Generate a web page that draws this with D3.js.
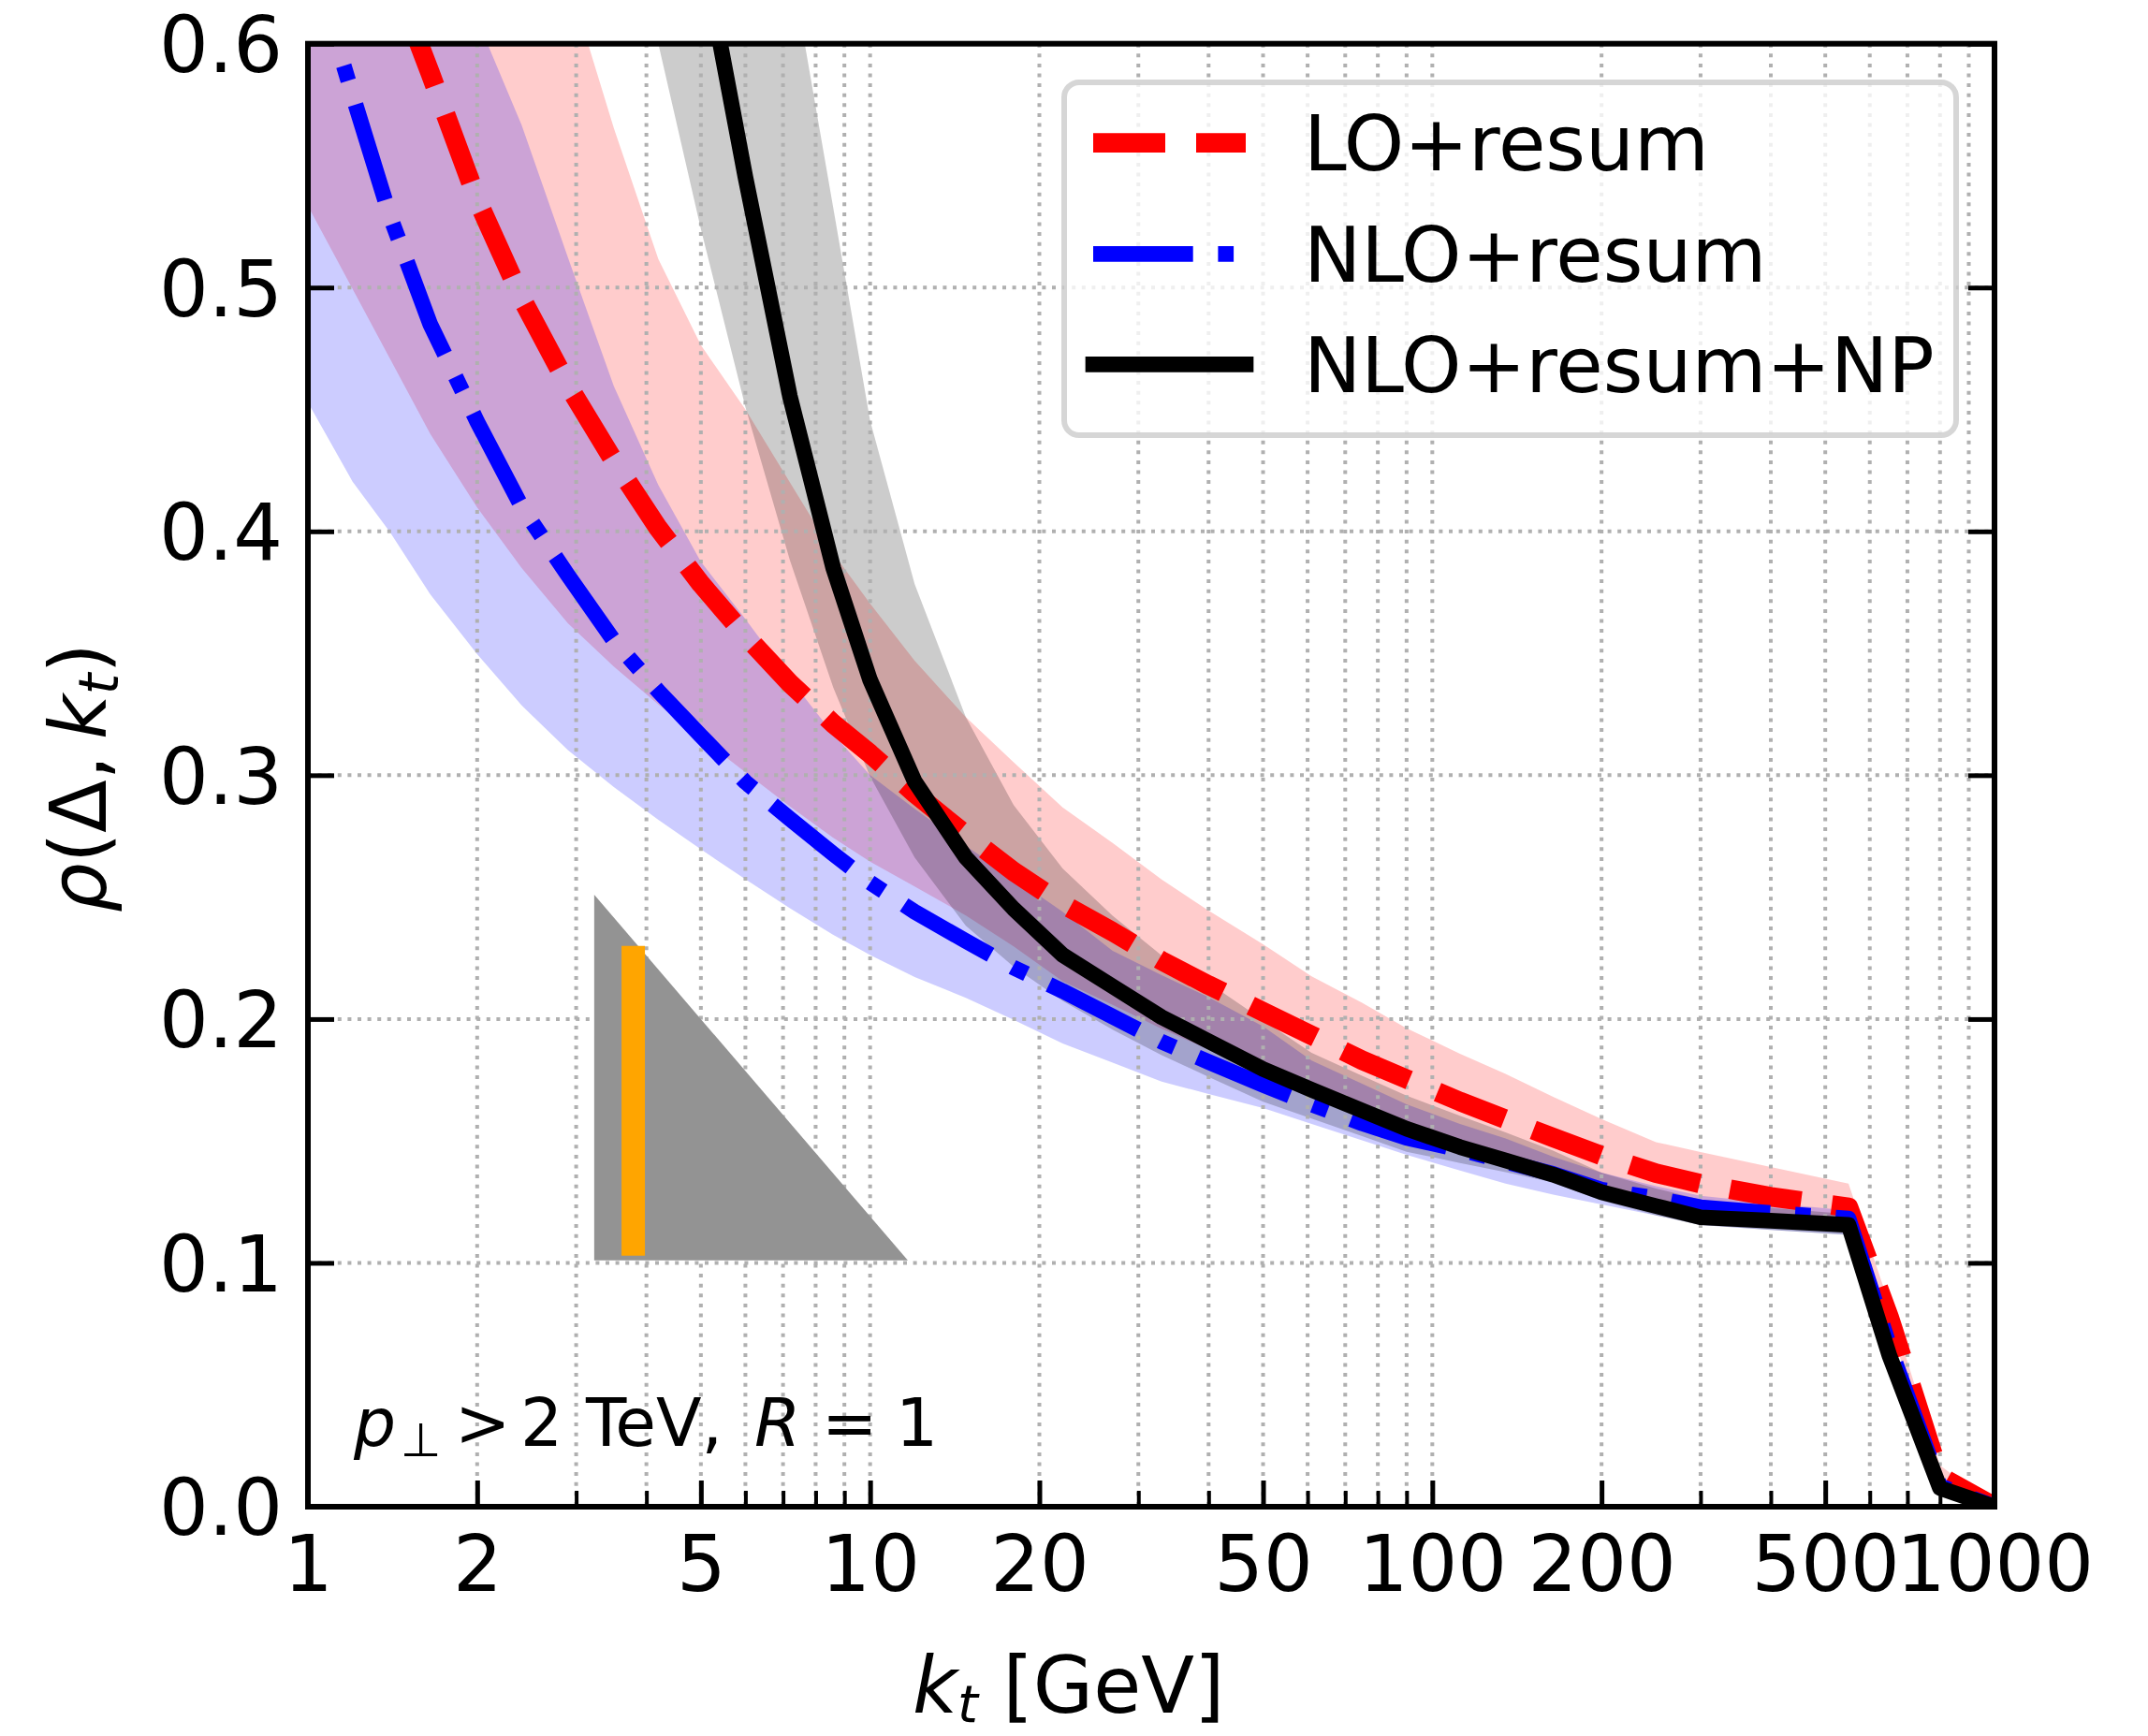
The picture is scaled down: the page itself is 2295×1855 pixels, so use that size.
<!DOCTYPE html>
<html>
<head>
<meta charset="utf-8">
<script src="https://cdn.jsdelivr.net/npm/d3@7"></script>
<style>
  html, body { margin: 0; padding: 0; background: #fff; }
  svg { display: block; font-family: "DejaVu Sans", sans-serif; }
</style>
</head>
<body>
<svg id="chart"></svg>
<script>
// kt grid [GeV]
const KT = [1, 1.2, 1.4, 1.65, 2, 2.4, 2.9, 3.5, 4.2, 5, 6, 7.2, 8.6, 10, 12, 14.8, 18, 22, 27, 33,
  40, 50, 61, 75, 90, 112, 135, 164, 200, 250, 300, 400, 550, 650, 800, 1000];

// LO+resum
const LO_MID = [0.73, 0.672, 0.631, 0.588, 0.536, 0.4956, 0.460, 0.4289, 0.4013, 0.3785, 0.3572, 0.3377, 0.3211, 0.3088,
  0.2926, 0.2756, 0.2605, 0.2472, 0.2358, 0.2239, 0.2139, 0.2030, 0.1933, 0.1831, 0.1754, 0.1662, 0.1589, 0.1514,
  0.144, 0.1368, 0.1325, 0.1271, 0.1228, 0.0776, 0.0125, 0];
const LO_LOW = [0.5335, 0.4995, 0.4707, 0.440, 0.4098, 0.385, 0.3623, 0.3446, 0.329, 0.3154, 0.3012, 0.2872, 0.2743, 0.2645,
  0.2544, 0.2425, 0.2298, 0.2155, 0.2058, 0.196, 0.1875, 0.1775, 0.170, 0.161, 0.1525, 0.145, 0.1395, 0.1345,
  0.1285, 0.124, 0.1205, 0.119, 0.117, 0.075, 0.010, 0];
const LO_HIGH = [0.95, 0.90, 0.86, 0.81, 0.75, 0.689, 0.627, 0.5654, 0.5117, 0.4764, 0.450, 0.4201, 0.391, 0.3704,
  0.347, 0.3238, 0.3053, 0.2868, 0.2722, 0.2572, 0.2445, 0.2307, 0.2175, 0.2067, 0.1962, 0.1858, 0.1775, 0.1681,
  0.159, 0.1495, 0.1455, 0.1393, 0.1325, 0.083, 0.017, 0];

// NLO+resum
const NLO_MID = [0.640, 0.5791, 0.5292, 0.485, 0.445, 0.4101, 0.382, 0.3552, 0.3345, 0.3162, 0.2972, 0.2821, 0.2677, 0.256,
  0.244, 0.232, 0.2211, 0.2115, 0.201, 0.1907, 0.1824, 0.173, 0.165, 0.1572, 0.1513, 0.1465, 0.1415, 0.1365,
  0.130, 0.1265, 0.1228, 0.1205, 0.1182, 0.066, 0.0085, 0];
const NLO_LOW = [0.4529, 0.4205, 0.3996, 0.3742, 0.3496, 0.3286, 0.3103, 0.2951, 0.2817, 0.2696, 0.2573, 0.2454, 0.2345, 0.2263,
  0.2172, 0.2087, 0.1997, 0.190, 0.1821, 0.1743, 0.1693, 0.1635, 0.157, 0.1503, 0.1443, 0.1379, 0.1325, 0.128,
  0.124, 0.1195, 0.1155, 0.1135, 0.1115, 0.058, 0.005, 0];
const NLO_HIGH = [0.84, 0.78, 0.733, 0.682, 0.610, 0.5666, 0.5124, 0.4596, 0.419, 0.3875, 0.364, 0.3396, 0.3168, 0.300,
  0.2862, 0.271, 0.2579, 0.244, 0.228, 0.218, 0.209, 0.197, 0.183, 0.1735, 0.165, 0.157, 0.151, 0.1435,
  0.137, 0.1315, 0.1275, 0.1245, 0.1215, 0.0675, 0.011, 0];

// NLO+resum+NP
const NP_MID = [1.45, 1.35, 1.25, 1.15, 1.05, 0.96, 0.88, 0.80, 0.734, 0.642, 0.5453, 0.4554, 0.3849, 0.339,
  0.2975, 0.2662, 0.2452, 0.2263, 0.2134, 0.2008, 0.1909, 0.1795, 0.1710, 0.1625, 0.155, 0.1475, 0.142, 0.1362,
  0.129, 0.1233, 0.1187, 0.1173, 0.1156, 0.0621, 0.0076, 0];
const NP_LOW = [1.25, 1.15, 1.07, 1.0, 0.92, 0.85, 0.763, 0.68, 0.60, 0.524, 0.451, 0.3881, 0.3359, 0.2995,
  0.2663, 0.2382, 0.2215, 0.2074, 0.1956, 0.1852, 0.1763, 0.1661, 0.1592, 0.152, 0.1456, 0.141, 0.1372, 0.133,
  0.1255, 0.1195, 0.1155, 0.1135, 0.1115, 0.059, 0.005, 0];
const NP_HIGH = [1.77, 1.68, 1.57, 1.48, 1.37, 1.264, 1.155, 1.048, 0.944, 0.8435, 0.739, 0.635, 0.5326, 0.4454,
  0.3784, 0.3238, 0.2878, 0.2618, 0.2424, 0.2261, 0.2148, 0.1996, 0.1861, 0.1767, 0.1686, 0.1603, 0.1535, 0.146,
  0.137, 0.1305, 0.126, 0.1225, 0.12, 0.066, 0.010, 0];

// inset sketch: grey triangle and orange bar (data coordinates)
const TRIANGLE = [[3.23, 0.101], [3.23, 0.251], [11.67, 0.101]];
const ORANGE_BAR = [[3.79, 0.103], [3.79, 0.230]];

// axes
const X_MAJOR = [1, 2, 5, 10, 20, 50, 100, 200, 500, 1000];
const X_MINOR = [3, 4, 6, 7, 8, 9, 30, 40, 60, 70, 80, 90, 300, 400, 600, 700, 800, 900];
const Y_TICKS = [0, 0.1, 0.2, 0.3, 0.4, 0.5, 0.6];
const LEGEND_LABELS = ["LO+resum", "NLO+resum", "NLO+resum+NP"];

const W = 2295, H = 1855;
const L = 329, R = 2131, T = 46.7, B = 1610;
const FS = 83;

const svg = d3.select("#chart").attr("width", W).attr("height", H).attr("viewBox", `0 0 ${W} ${H}`);
svg.append("rect").attr("width", W).attr("height", H).attr("fill", "#fff");

const x = d3.scaleLog().domain([1, 1000]).range([L, R]);
const y = d3.scaleLinear().domain([0, 0.6]).range([B, T]);

svg.append("defs").append("clipPath").attr("id", "plot-clip")
  .append("rect").attr("x", L).attr("y", T).attr("width", R - L).attr("height", B - T);

const plot = svg.append("g").attr("clip-path", "url(#plot-clip)");

const series = [
  { mid: LO_MID, low: LO_LOW, high: LO_HIGH, color: "#ff0000", width: 20.8, dash: "77,33" },
  { mid: NLO_MID, low: NLO_LOW, high: NLO_HIGH, color: "#0000ff", width: 16.7, dash: "106.7,26.7,16.7,26.7" },
  { mid: NP_MID, low: NP_LOW, high: NP_HIGH, color: "#000000", width: 16.7, dash: null }
];
series.forEach(s => { s.rows = KT.map((k, i) => ({ k, c: s.mid[i], lo: s.low[i], hi: s.high[i] })); });

// Uncertainty bands
const area = d3.area().x(d => x(d.k)).y0(d => y(d.lo)).y1(d => y(d.hi));
series.forEach(s => {
  plot.append("path").datum(s.rows)
    .attr("d", area)
    .attr("fill", s.color)
    .attr("fill-opacity", 0.2);
});

// Grid lines
plot.selectAll(".vgrid")
  .data(X_MAJOR.concat(X_MINOR))
  .join("line")
  .attr("x1", d => x(d)).attr("x2", d => x(d))
  .attr("y1", T).attr("y2", B)
  .attr("stroke", "#b0b0b0").attr("stroke-width", 4).attr("stroke-dasharray", "4,6.6");
plot.selectAll(".hgrid")
  .data(Y_TICKS)
  .join("line")
  .attr("x1", L).attr("x2", R)
  .attr("y1", d => y(d)).attr("y2", d => y(d))
  .attr("stroke", "#b0b0b0").attr("stroke-width", 4).attr("stroke-dasharray", "4,6.6");

// Inset sketch
plot.append("path")
  .attr("d", "M" + TRIANGLE.map(p => [x(p[0]), y(p[1])].join(",")).join("L") + "Z")
  .attr("fill", "#939393");
plot.append("line")
  .attr("x1", x(ORANGE_BAR[0][0])).attr("x2", x(ORANGE_BAR[1][0]))
  .attr("y1", y(ORANGE_BAR[0][1])).attr("y2", y(ORANGE_BAR[1][1]))
  .attr("stroke", "#ffa500").attr("stroke-width", 25);

// Central lines
const line = d3.line().x(d => x(d.k)).y(d => y(d.c));
series.forEach(s => {
  plot.append("path").datum(s.rows)
    .attr("d", line)
    .attr("fill", "none")
    .attr("stroke", s.color)
    .attr("stroke-width", s.width)
    .attr("stroke-linejoin", "round")
    .attr("stroke-dasharray", s.dash);
});

// Axes (inward ticks)
const styleAxis = sel => {
  sel.select(".domain").remove();
  sel.selectAll(".tick line").attr("stroke", "#000").attr("stroke-width", 5);
  sel.selectAll(".tick text").attr("fill", "#000").style("font-size", FS + "px")
    .style("font-family", "'DejaVu Sans', sans-serif");
};

svg.append("g").attr("transform", `translate(0,${B})`)
  .call(d3.axisBottom(x).tickValues(X_MAJOR).tickFormat(d3.format("d")).tickSizeInner(-28).tickSizeOuter(0).tickPadding(31))
  .call(styleAxis);
svg.append("g").attr("transform", `translate(0,${B})`)
  .call(d3.axisBottom(x).tickValues(X_MINOR).tickFormat("").tickSizeInner(-17).tickSizeOuter(0))
  .call(styleAxis)
  .call(g => g.selectAll(".tick line").attr("stroke-width", 4));
svg.append("g").attr("transform", `translate(${L},0)`)
  .call(d3.axisLeft(y).tickValues(Y_TICKS).tickFormat(d3.format(".1f")).tickSizeInner(-28).tickSizeOuter(0).tickPadding(27))
  .call(styleAxis)
  .call(g => g.selectAll(".tick text").attr("dy", "0.36em"));
svg.append("g").attr("transform", `translate(${R},0)`)
  .call(d3.axisRight(y).tickValues(Y_TICKS).tickFormat("").tickSizeInner(-28).tickSizeOuter(0))
  .call(styleAxis);

// Frame
svg.append("rect")
  .attr("x", L).attr("y", T).attr("width", R - L).attr("height", B - T)
  .attr("fill", "none").attr("stroke", "#000").attr("stroke-width", 6);

// Axis labels
const xl = svg.append("text").attr("x", 975).attr("y", 1830).style("font-size", FS + "px").attr("fill", "#000");
xl.append("tspan").style("font-style", "italic").text("k");
xl.append("tspan").style("font-style", "italic").style("font-size", "56px").attr("dy", 10).text("t");
xl.append("tspan").attr("dy", -10).text(" [GeV]");

const yl = svg.append("text").attr("transform", "translate(113,831) rotate(-90)")
  .attr("text-anchor", "middle").style("font-size", FS + "px").attr("fill", "#000");
yl.append("tspan").style("font-style", "italic").text("ρ");
yl.append("tspan").text("(Δ,\u2009");
yl.append("tspan").style("font-style", "italic").text("k");
yl.append("tspan").style("font-style", "italic").style("font-size", "58px").attr("dy", 13).text("t");
yl.append("tspan").attr("dy", -13).text(")");

// Annotation p_perp > 2 TeV, R = 1
const ann = svg.append("g").style("font-size", "71px").attr("fill", "#000");
ann.append("text").attr("x", 378).attr("y", 1545).style("font-style", "italic").text("p");
ann.append("text").attr("x", 428).attr("y", 1556).style("font-size", "50px").text("⊥");
ann.append("text").attr("x", 486).attr("y", 1545).text(">");
ann.append("text").attr("x", 556).attr("y", 1545).text("2");
ann.append("text").attr("x", 626).attr("y", 1545).text("TeV,");
ann.append("text").attr("x", 806).attr("y", 1545).style("font-style", "italic").text("R");
ann.append("text").attr("x", 878).attr("y", 1545).text("=");
ann.append("text").attr("x", 957).attr("y", 1545).text("1");

// Legend
const legend = svg.append("g");
legend.append("rect")
  .attr("x", 1137).attr("y", 88).attr("width", 953).attr("height", 377).attr("rx", 16)
  .attr("fill", "#fff").attr("fill-opacity", 0.8)
  .attr("stroke", "#cccccc").attr("stroke-opacity", 0.8).attr("stroke-width", 6);
const rowY = [152.7, 271.3, 389.3];
series.forEach((s, i) => {
  legend.append("line")
    .attr("x1", 1168).attr("x2", 1331).attr("y1", rowY[i]).attr("y2", rowY[i])
    .attr("stroke", s.color).attr("stroke-width", s.width)
    .attr("stroke-linecap", s.dash ? "butt" : "square")
    .attr("stroke-dasharray", s.dash);
  legend.append("text")
    .attr("x", 1393).attr("y", rowY[i] + 29.5)
    .style("font-size", "82px").attr("fill", "#000")
    .text(LEGEND_LABELS[i]);
});
</script>
</body>
</html>
